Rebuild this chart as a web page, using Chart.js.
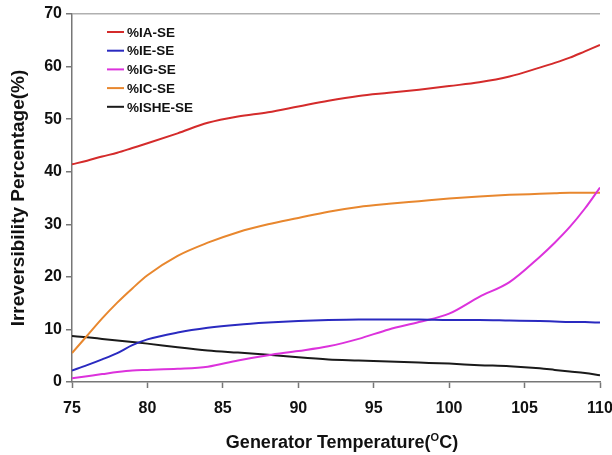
<!DOCTYPE html>
<html>
<head>
<meta charset="utf-8">
<script src="https://cdn.jsdelivr.net/npm/chart.js@4/dist/chart.umd.min.js"></script>
<style>
  html, body { margin: 0; padding: 0; background: #fff; }
  #wrap { position: relative; width: 612px; height: 455px; }
</style>
</head>
<body>
<div id="wrap"><canvas id="irrChart" width="612" height="455"></canvas></div>
<script>
// Generator temperature (°C)
const temps = [75, 76, 77, 78, 79, 80, 82, 84, 86, 88, 90, 92, 94, 96, 98, 100, 102, 104, 106, 107, 108, 109, 110];

// Irreversibility share of each component (%)
const iaSE   = [41.4, 42.1, 42.9, 43.6, 44.5, 45.4, 47.3, 49.3, 50.5, 51.3, 52.4, 53.5, 54.4, 55.0, 55.6, 56.3, 57.0, 58.1, 59.8, 60.7, 61.7, 62.9, 64.1];
const ieSE   = [2.2, 3.2, 4.3, 5.5, 7.0, 8.1, 9.4, 10.3, 10.9, 11.3, 11.6, 11.8, 11.9, 11.9, 11.9, 11.8, 11.8, 11.7, 11.6, 11.5, 11.4, 11.4, 11.3];
const igSE   = [0.7, 1.1, 1.5, 1.9, 2.2, 2.3, 2.5, 2.9, 4.1, 5.1, 5.9, 6.8, 8.2, 10.0, 11.4, 13.0, 16.2, 19.0, 23.8, 26.5, 29.5, 33.0, 37.0];
const icSE   = [5.5, 8.8, 12.1, 15.1, 17.8, 20.3, 24.0, 26.5, 28.5, 30.0, 31.2, 32.4, 33.3, 33.9, 34.4, 34.9, 35.3, 35.6, 35.8, 35.9, 36.0, 36.0, 36.0];
const isheSE = [8.75, 8.5, 8.2, 7.9, 7.6, 7.3, 6.6, 6.0, 5.6, 5.2, 4.7, 4.3, 4.1, 3.9, 3.7, 3.5, 3.2, 3.0, 2.6, 2.3, 2.0, 1.7, 1.3];

const seriesLabels = ['%IA-SE', '%IE-SE', '%IG-SE', '%IC-SE', '%ISHE-SE'];
const seriesColors = ['#d42b2b', '#2a2ac0', '#dc32dc', '#e8872e', '#1a1a1a'];
const seriesData = [iaSE, ieSE, igSE, icSE, isheSE];

const yTicks = [0, 10, 20, 30, 40, 50, 60, 70];
const xTicks = [75, 80, 85, 90, 95, 100, 105, 110];

const FONT = '"Liberation Sans", Arial, sans-serif';

// legend drawn inside the plot, top-left
const innerLegend = {
    id: 'innerLegend',
    afterDatasetsDraw(chart) {
        const ctx = chart.ctx;
        ctx.save();
        ctx.font = `bold 13.5px ${FONT}`;
        ctx.textBaseline = 'middle';
        chart.data.datasets.forEach((ds, i) => {
            const y = 32 + i * 18.7;
            ctx.strokeStyle = ds.borderColor;
            ctx.lineWidth = 2;
            ctx.beginPath();
            ctx.moveTo(107, y);
            ctx.lineTo(124, y);
            ctx.stroke();
            ctx.fillStyle = '#111';
            ctx.fillText(ds.label, 127, y + 1);
        });
        ctx.restore();
    },
};

// x axis title with superscript O
const xTitle = {
    id: 'xTitle',
    afterDraw(chart) {
        const ctx = chart.ctx;
        ctx.save();
        ctx.fillStyle = '#111';
        ctx.textBaseline = 'alphabetic';
        const part1 = 'Generator Temperature(';
        const sup = 'O';
        const part2 = 'C)';
        ctx.font = `bold 18px ${FONT}`;
        const w1 = ctx.measureText(part1).width;
        const w3 = ctx.measureText(part2).width;
        ctx.font = `bold 11px ${FONT}`;
        const w2 = ctx.measureText(sup).width;
        const total = w1 + w2 + w3;
        let x = 342 - total / 2;
        const base = 448;
        ctx.font = `bold 18px ${FONT}`;
        ctx.fillText(part1, x, base);
        x += w1;
        ctx.font = `bold 11px ${FONT}`;
        ctx.fillText(sup, x, base - 7);
        x += w2;
        ctx.font = `bold 18px ${FONT}`;
        ctx.fillText(part2, x, base);
        ctx.restore();
    },
};

const ctx = document.getElementById('irrChart').getContext('2d');
new Chart(ctx, {
    type: 'line',
    data: {
        datasets: seriesData.map((vals, i) => ({
            label: seriesLabels[i],
            data: temps.map((t, j) => ({ x: t, y: vals[j] })),
            borderColor: seriesColors[i],
            backgroundColor: seriesColors[i],
            borderWidth: 2,
            pointRadius: 0,
            cubicInterpolationMode: 'monotone',
            fill: false,
        })),
    },
    options: {
        responsive: false,
        animation: false,
        layout: { padding: { top: 14, right: 12, left: 0, bottom: 0 } },
        plugins: {
            legend: { display: false },
            tooltip: { enabled: false },
        },
        scales: {
            x: {
                type: 'linear',
                min: 75,
                max: 110,
                afterBuildTicks: s => { s.ticks = xTicks.map(v => ({ value: v })); },
                afterFit: s => {
                    s.height = 73;
                    s.paddingLeft = 0;
                    s.paddingRight = 0;
                },
                border: { color: '#777', width: 1.5 },
                grid: { drawOnChartArea: false, tickLength: 6, tickColor: '#777', tickWidth: 1.5 },
                ticks: {
                    color: '#111',
                    padding: 11,
                    font: { family: FONT, size: 16, weight: 'bold' },
                },
            },
            y: {
                min: 0,
                max: 70,
                afterBuildTicks: s => { s.ticks = yTicks.map(v => ({ value: v })); },
                afterFit: s => {
                    s.width = 72;
                    s.paddingTop = 0;
                    s.paddingBottom = 0;
                },
                border: { color: '#777', width: 1.5 },
                grid: {
                    drawOnChartArea: true,
                    color: c => (c.tick && c.tick.value === 70 ? '#b0b0b0' : 'rgba(0,0,0,0)'),
                    lineWidth: 1.5,
                    tickLength: 6,
                    tickColor: '#777',
                    tickWidth: 1.5,
                },
                ticks: {
                    color: '#111',
                    padding: 4,
                    font: { family: FONT, size: 16, weight: 'bold' },
                },
                title: {
                    display: true,
                    text: 'Irreversibility Percentage(%)',
                    color: '#111',
                    padding: { top: 7, bottom: 0 },
                    font: { family: FONT, size: 19, weight: 'bold' },
                },
            },
        },
    },
    plugins: [innerLegend, xTitle],
});
</script>
</body>
</html>
